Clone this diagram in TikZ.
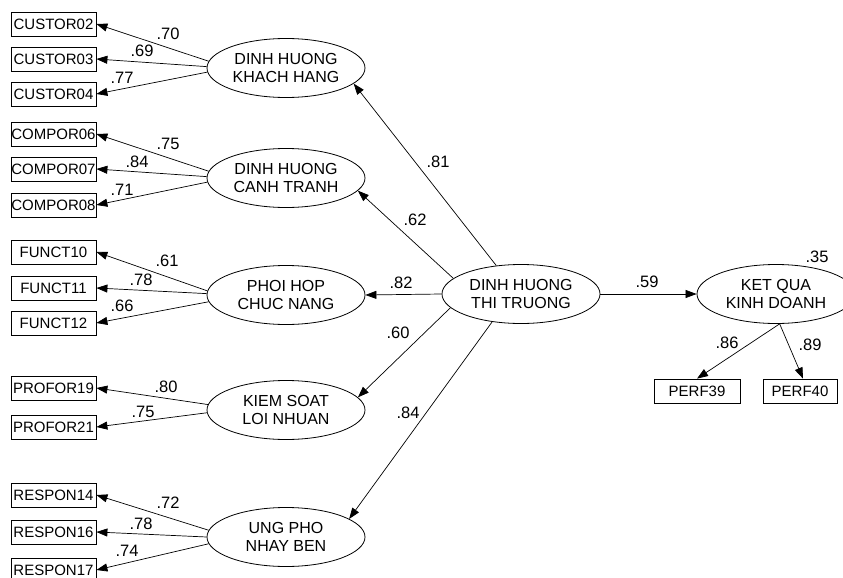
\documentclass[tikz,border=0pt]{standalone}
\usepackage{fontspec}
\setmainfont{Liberation Sans}
\usetikzlibrary{shapes.geometric,arrows.meta}

\begin{document}
\begin{tikzpicture}[x=1pt,y=-1pt,font=\fontsize{15}{18}\selectfont,>={Triangle[length=11pt,width=8pt]},
  lat/.style={ellipse,draw,line width=0.8pt,minimum width=158pt,minimum height=59pt,inner sep=0pt,align=center,font=\fontsize{16}{18}\selectfont},
  obs/.style={rectangle,draw,line width=0.8pt,minimum width=85pt,minimum height=24pt,inner sep=0pt},
  ar/.style={->,line width=0.7pt},
  lbl/.style={inner sep=0pt,font=\fontsize{16.5}{18}\selectfont}]
\useasboundingbox (0,0) rectangle (843,578);
% latent variables
\node[lat](kh) at (286,68){DINH HUONG\\KHACH HANG};
\node[lat](ct) at (286,178){DINH HUONG\\CANH TRANH};
\node[lat](ph) at (286,295){PHOI HOP\\CHUC NANG};
\node[lat](ks) at (286,410){KIEM SOAT\\LOI NHUAN};
\node[lat](up) at (286,537){UNG PHO\\NHAY BEN};
\node[lat](dhtt) at (521,294){DINH HUONG\\THI TRUONG};
\node[lat](kq) at (776,294){KET QUA\\KINH DOANH};
% observed variables
\node[obs](c02) at (53.5,24){CUSTOR02};
\node[obs](c03) at (53.5,59){CUSTOR03};
\node[obs](c04) at (53.5,94){CUSTOR04};
\node[obs](m06) at (53.5,134){COMPOR06};
\node[obs](m07) at (53.5,169){COMPOR07};
\node[obs](m08) at (53.5,205){COMPOR08};
\node[obs](f10) at (53.5,252){FUNCT10};
\node[obs](f11) at (53.5,288){FUNCT11};
\node[obs](f12) at (53.5,323){FUNCT12};
\node[obs](p19) at (53.5,388){PROFOR19};
\node[obs](p21) at (53.5,427){PROFOR21};
\node[obs](r14) at (53.5,495){RESPON14};
\node[obs](r16) at (53.5,532){RESPON16};
\node[obs](r17) at (53.5,570){RESPON17};
\node[obs,minimum width=86pt](pf39) at (697,391){PERF39};
\node[obs,minimum width=74pt](pf40) at (800,391){PERF40};
% loadings
\draw[ar](kh.175)--(c02.east);\draw[ar](kh.179)--(c03.east);\draw[ar](kh.183)--(c04.east);
\draw[ar](ct.175)--(m06.east);\draw[ar](ct.179)--(m07.east);\draw[ar](ct.183)--(m08.east);
\draw[ar](ph.177)--(f10.east);\draw[ar](ph.179)--(f11.east);\draw[ar](ph.185)--(f12.east);
\draw[ar](ks.176)--(p19.east);\draw[ar](ks.182)--(p21.east);
\draw[ar](up.175)--(r14.east);\draw[ar](up.180)--(r16.east);\draw[ar](up.185)--(r17.east);
\draw[ar](kq.277)--(pf39.north);\draw[ar](kq.277)--([xshift=3pt]pf40.north);
% structural paths
\draw[ar](dhtt.131)--(kh.347);
\draw[ar](dhtt.167)--(ct.350);
\draw[ar](dhtt.west)--(ph.east);
\draw[ar](dhtt.191)--(ks.10);
\draw[ar](dhtt.224)--(up.16);
\draw[ar](dhtt.east)--(kq.west);
% estimates
\node[lbl](e1) at (168,34){.70};
\node[lbl](e2) at (142,51){.69};
\node[lbl](e3) at (122,78){.77};
\node[lbl](e4) at (168,144){.75};
\node[lbl](e5) at (137,162){.84};
\node[lbl](e6) at (122,190){.71};
\node[lbl](e7) at (167,261){.61};
\node[lbl](e8) at (141,280){.78};
\node[lbl](e9) at (122,306){.66};
\node[lbl](e10) at (166,387){.80};
\node[lbl](e11) at (143,412){.75};
\node[lbl](e12) at (168,503){.72};
\node[lbl](e13) at (141,524){.78};
\node[lbl](e14) at (127,551){.74};
\node[lbl](s1) at (438,162){.81};
\node[lbl](s2) at (415,220){.62};
\node[lbl](s3) at (401,283){.82};
\node[lbl](s4) at (398,333){.60};
\node[lbl](s5) at (408,413){.84};
\node[lbl](s6) at (647,282){.59};
\node[lbl](r2) at (817,257){.35};
\node[lbl](s7) at (727,343){.86};
\node[lbl](s8) at (810,345){.89};
\end{tikzpicture}
\end{document}
